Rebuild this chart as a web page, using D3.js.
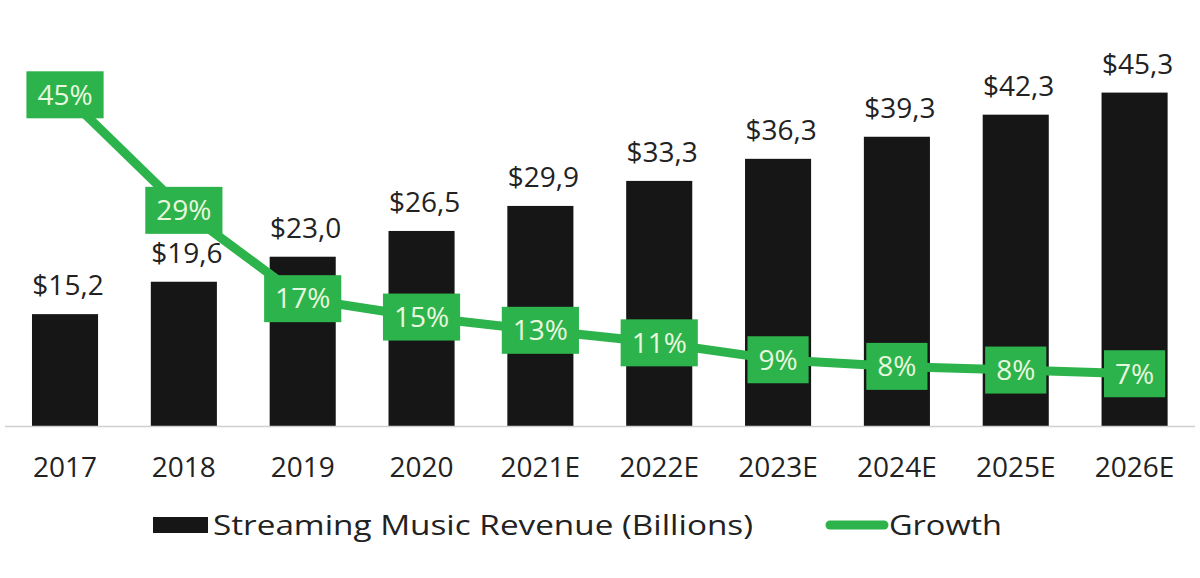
<!DOCTYPE html>
<html>
<head>
<meta charset="utf-8">
<script src="https://cdn.jsdelivr.net/npm/d3@7/dist/d3.min.js"></script>
<style>
  html, body { margin: 0; padding: 0; background: #ffffff; }
  svg { display: block; }
  text { font-family: "Open Sans", "Noto Sans", sans-serif; }
</style>
</head>
<body>
<svg id="chart" width="1200" height="578"></svg>
<script>
const categories = ["2017", "2018", "2019", "2020", "2021E", "2022E", "2023E", "2024E", "2025E", "2026E"];
const revenue = [15.2, 19.6, 23.0, 26.5, 29.9, 33.3, 36.3, 39.3, 42.3, 45.3];
const revenueLabels = ["$15,2", "$19,6", "$23,0", "$26,5", "$29,9", "$33,3", "$36,3", "$39,3", "$42,3", "$45,3"];
const growth = [45, 29.3, 17.3, 14.8, 13.0, 11.3, 9.0, 8.1, 7.6, 7.1];
const growthLabels = ["45%", "29%", "17%", "15%", "13%", "11%", "9%", "8%", "8%", "7%"];
const legendLabels = ["Streaming Music Revenue (Billions)", "Growth"];

const GREEN = "#2db34b";
const BAR = "#161616";

const svg = d3.select("#chart");

const x = d3.scaleBand().domain(categories).range([5.6, 1194]).paddingInner(0.444).paddingOuter(0.222);
const y = d3.scaleLinear().domain([0, 50]).range([426, 58]);
const y2 = d3.scaleLinear().domain([0, 50]).range([426, 58]);

// bars
svg.append("g").selectAll("rect").data(categories).join("rect")
  .attr("x", d => x(d))
  .attr("width", x.bandwidth())
  .attr("y", (d, i) => y(revenue[i]))
  .attr("height", (d, i) => y(0) - y(revenue[i]))
  .attr("fill", BAR);

// bar value labels
svg.append("g").selectAll("text").data(categories).join("text")
  .attr("x", d => x(d) + x.bandwidth() / 2 + 3)
  .attr("y", (d, i) => y(revenue[i]) - 19)
  .attr("text-anchor", "middle")
  .attr("font-size", 28)
  .attr("fill", "#222")
  .text((d, i) => revenueLabels[i]);

// x axis
const xAxis = d3.axisBottom(x).tickSize(0).tickPadding(0);
const gx = svg.append("g").attr("transform", `translate(0,${y(0)})`).call(xAxis);
gx.select(".domain").attr("d", "M5,0.5H1195").attr("stroke", "#d0d0d0").attr("stroke-width", 1.5);
gx.selectAll(".tick text")
  .attr("font-size", 28)
  .attr("fill", "#222")
  .attr("dy", null)
  .attr("y", 51)
  .style("font-family", '"Open Sans", "Noto Sans", sans-serif');

// growth line
const line = d3.line()
  .x((d, i) => x(categories[i]) + x.bandwidth() / 2)
  .y(d => y2(d));
svg.append("path")
  .datum(growth)
  .attr("d", line)
  .attr("fill", "none")
  .attr("stroke", GREEN)
  .attr("stroke-width", 9)
  .attr("stroke-linejoin", "round");

// growth label boxes
const gl = svg.append("g").selectAll("g").data(categories).join("g")
  .attr("transform", (d, i) => `translate(${x(d) + x.bandwidth() / 2},${y2(growth[i])})`);
gl.append("text")
  .attr("text-anchor", "middle")
  .attr("dy", "0.35em")
  .attr("font-size", 28)
  .attr("fill", "#e8f8df")
  .text((d, i) => growthLabels[i]);
gl.each(function() {
  const g = d3.select(this);
  const bb = g.select("text").node().getBBox();
  g.insert("rect", "text")
    .attr("x", -bb.width / 2 - 11)
    .attr("y", -23.5)
    .attr("width", bb.width + 22)
    .attr("height", 47)
    .attr("fill", GREEN);
});

// legend
const lg = svg.append("g");
lg.append("rect").attr("x", 153).attr("y", 517).attr("width", 55).attr("height", 16).attr("fill", BAR);
lg.append("text").attr("x", 213).attr("y", 535).attr("font-size", 28).attr("fill", "#222")
  .attr("textLength", 540).attr("lengthAdjust", "spacingAndGlyphs").text(legendLabels[0]);
lg.append("line").attr("x1", 830).attr("x2", 884).attr("y1", 525).attr("y2", 525)
  .attr("stroke", GREEN).attr("stroke-width", 9).attr("stroke-linecap", "round");
lg.append("text").attr("x", 889).attr("y", 535).attr("font-size", 28).attr("fill", "#222")
  .attr("textLength", 113).attr("lengthAdjust", "spacingAndGlyphs").text(legendLabels[1]);
</script>
</body>
</html>
